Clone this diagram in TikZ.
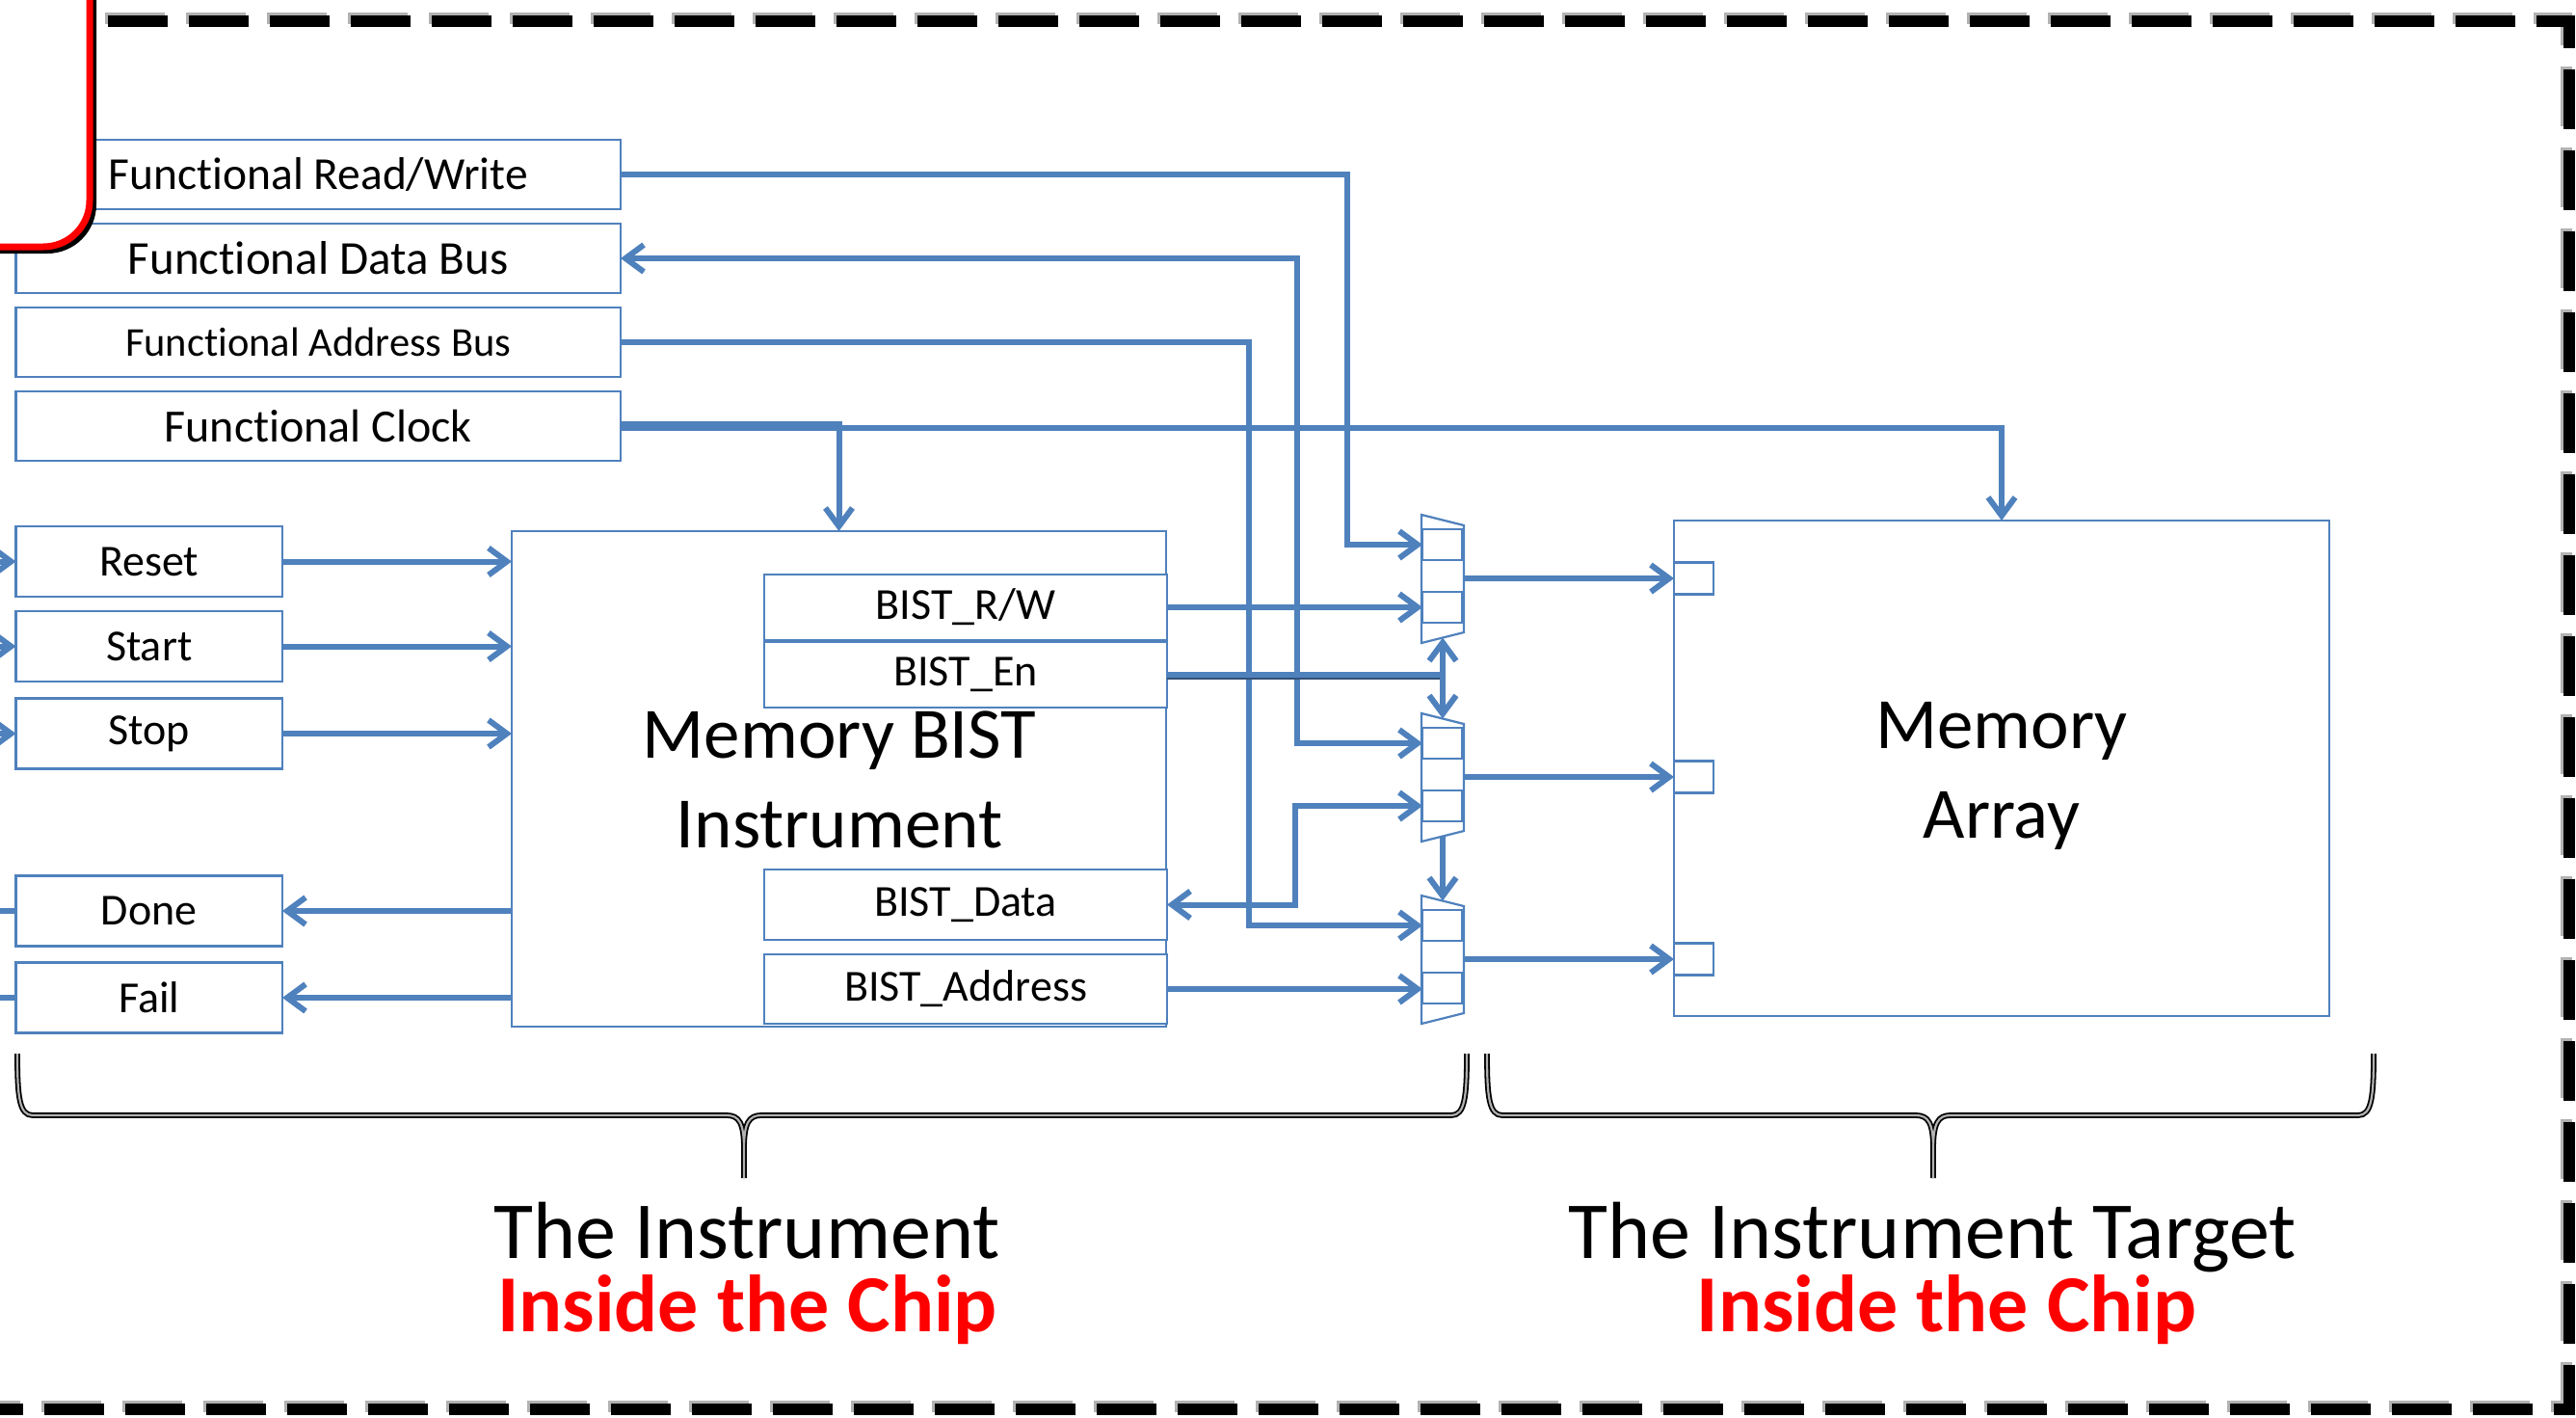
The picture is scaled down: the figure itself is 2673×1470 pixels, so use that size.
\documentclass[tikz,border=0pt]{standalone}
\usepackage{fontspec}
\setmainfont{Carlito}[Ligatures=NoCommon]
\usetikzlibrary{arrows.meta}
\definecolor{lnblue}{RGB}{79,129,189}
\definecolor{lndark}{RGB}{50,80,118}
\definecolor{chipred}{RGB}{255,0,0}
\newcommand\myfs[1]{\fontsize{#1}{#1}\selectfont}
\newcommand\drawmux[2]{%
  \draw[box] (1475,#1) -- (1519,{#1+11}) -- (1519,{#1+122}) -- (1475,{#1+133}) -- cycle;
  \node[box, minimum width=41pt, minimum height=32pt] (#2a) at (1496.5,{#1+31}) {};
  \node[box, minimum width=41pt, minimum height=32pt] (#2b) at (1496.5,{#1+96}) {};
  \coordinate (#2o) at (1519,{#1+66});
  \coordinate (#2top) at (1497,{#1+5.5});
  \coordinate (#2bot) at (1497,{#1+127.5});
}
\newcommand\drawbrace[4]{%
  \draw[#4] (#1,1093) .. controls (#1,1138) and ({#1+2},1157) .. ({#1+16},1157)
     -- ({#2-18},1157) .. controls ({#2-5},1157) and (#2,1165) .. (#2,1192) -- (#2,1222)
     (#2,1192) .. controls (#2,1165) and ({#2+5},1157) .. ({#2+18},1157)
     -- ({#3-16},1157) .. controls ({#3-2},1157) and (#3,1138) .. (#3,1093);
}
\begin{document}
\begin{tikzpicture}[x=1pt,y=-1pt,
  box/.style={draw=lnblue, line width=2.2pt, fill=white, inner sep=0pt, outer sep=0pt},
  conn/.style={draw=lnblue, line width=6pt},
  >={Straight Barb[length=19pt,width=28pt]},
  lbl/.style={font=\myfs{46}, text=black},
  border/.style={line width=12pt, dash pattern=on 62pt off 22pt},
  bigtxt/.style={anchor=base, font=\myfs{75}},
  captxt/.style={anchor=base, font=\myfs{84}},
  redtxt/.style={anchor=base, font=\myfs{84}\bfseries, text=chipred},
  bracestyle/.style={line width=1.8pt, black, double=gray!60, double distance=2.2pt}]
\useasboundingbox (0,0) rectangle (2673,1470);
\fill[white] (0,0) rectangle (2673,1470);

% outer dashed border
\draw[border, gray!60] (109,19) -- (2663,19) -- (2663,1459) -- (-100,1459);
\draw[border, black] (112,22) -- (2666,22) -- (2666,1462) -- (-100,1462);

% free ends on the left
\coordinate (inL) at (-40,0);

% functional boxes
\node[box, lbl, font=\myfs{47.5}, minimum width=627.5pt, minimum height=72pt] (frw) at (330.25,181) {Functional Read/Write};
\node[box, lbl, font=\myfs{49}, minimum width=627.5pt, minimum height=72pt] (fdb) at (330.25,268) {Functional Data Bus};
\node[box, lbl, font=\myfs{42.5}, minimum width=627.5pt, minimum height=72pt] (fab) at (330.25,355) {Functional Address Bus};
\node[box, lbl, font=\myfs{48}, minimum width=627.5pt, minimum height=72pt] (fc) at (330.25,442) {Functional Clock};

% control boxes
\node[box, lbl, minimum width=276.5pt, minimum height=73pt] (reset) at (154.75,582.5) {Reset};
\node[box, lbl, minimum width=276.5pt, minimum height=73pt] (start) at (154.75,670.5) {Start};
\node[box, lbl, minimum width=276.5pt, minimum height=73pt] (stop) at (154.75,761) {Stop};
\node[box, lbl, minimum width=276.5pt, minimum height=73pt] (done) at (154.75,945) {Done};
\node[box, lbl, minimum width=276.5pt, minimum height=73pt] (fail) at (154.75,1035) {Fail};

% Memory BIST instrument
\node[box, minimum width=679pt, minimum height=514pt] (bist) at (870.5,808) {};
\node[bigtxt] (bistt1) at (871,786) {Memory BIST};
\node[bigtxt] (bistt2) at (871,879) {Instrument};
\node[box, lbl, minimum width=418pt, minimum height=68pt] (bistrw) at (1002,630) {BIST\_R/W};
\node[box, lbl, minimum width=418pt, minimum height=68pt] (bisten) at (1002,700) {BIST\_En};
\node[box, lbl, minimum width=418pt, minimum height=73pt] (bistdata) at (1002,938.5) {BIST\_Data};
\node[box, lbl, minimum width=418pt, minimum height=72pt] (bistaddr) at (1002,1026) {BIST\_Address};

% multiplexers
\drawmux{534}{m1}
\drawmux{740}{m2}
\drawmux{929}{m3}

% memory array
\node[box, minimum width=680pt, minimum height=514pt] (mem) at (2077,797) {};
\node[bigtxt] (memt1) at (2077,776) {Memory};
\node[bigtxt] (memt2) at (2077,869) {Array};
\node[box, minimum width=41pt, minimum height=33pt] (p1) at (1757.5,600) {};
\node[box, minimum width=41pt, minimum height=33pt] (p2) at (1757.5,806) {};
\node[box, minimum width=41pt, minimum height=33pt] (p3) at (1757.5,995) {};

% red frame corner (top left)
\draw[line width=6pt, black, rounded corners=48pt] (-60,-60) rectangle (97,260);
\draw[line width=7pt, chipred, fill=white, rounded corners=48pt] (-60,-60) rectangle (93,256);

% connectors: inputs/outputs on the left
\draw[conn,->] (reset.west -| inL) -- (reset.west);
\draw[conn,->] (start.west -| inL) -- (start.west);
\draw[conn,->] (stop.west -| inL) -- (stop.west);
\draw[conn] (done.west) -- (done.west -| inL);
\draw[conn] (fail.west) -- (fail.west -| inL);

\draw[conn,->] (reset.east) -- (reset.east -| bist.west);
\draw[conn,->] (start.east) -- (start.east -| bist.west);
\draw[conn,->] (stop.east) -- (stop.east -| bist.west);
\draw[conn,->] (done.east -| bist.west) -- (done.east);
\draw[conn,->] (fail.east -| bist.west) -- (fail.east);

% functional signals
\draw[conn,->] (frw.east) -| (1398,565) -- (m1a.west);
\draw[conn,<->] (fdb.east) -| (1346,771) -- (m2a.west);
\draw[conn,->] (fab.east) -| (1296,960) -- (m3a.west);
\draw[conn,->] ([yshift=2pt]fc.east) -| (bist.north);
\draw[conn,->] ([yshift=-2pt]fc.east) -| (mem.north);

% BIST signals
\draw[conn,->] (bistrw.east) -- (bistrw.east -| m1b.west);
\coordinate (enj) at (bisten.east -| m1top);
\draw[line width=5pt, lndark] ([yshift=-2.5pt]bisten.east) -- ([yshift=-2.5pt]enj);
\draw[conn] (bisten.east) -- (enj);
\draw[conn,->] (enj) -- (m1bot);
\draw[conn,->] (enj) -- (m2top);
\draw[conn,->] (m2bot) -- (m3top);
\draw[conn,<->] (bistdata.east) -- (1344,938.5) |- (m2b.west);
\draw[conn,->] (bistaddr.east) -- (bistaddr.east -| m3b.west);

% mux outputs
\draw[conn,->] (m1o) -- (p1.west);
\draw[conn,->] (m2o) -- (p2.west);
\draw[conn,->] (m3o) -- (p3.west);

% braces
\drawbrace{18}{772}{1522}{bracestyle}
\drawbrace{1543}{2006}{2463}{bracestyle}

% captions
\node[captxt] (cap1) at (775,1305) {The Instrument};
\node[redtxt] (cap2) at (775.5,1381) {Inside the Chip};
\node[captxt] (cap3) at (2005,1305) {The Instrument Target};
\node[redtxt] (cap4) at (2020,1381) {Inside the Chip};
\end{tikzpicture}
\end{document}
